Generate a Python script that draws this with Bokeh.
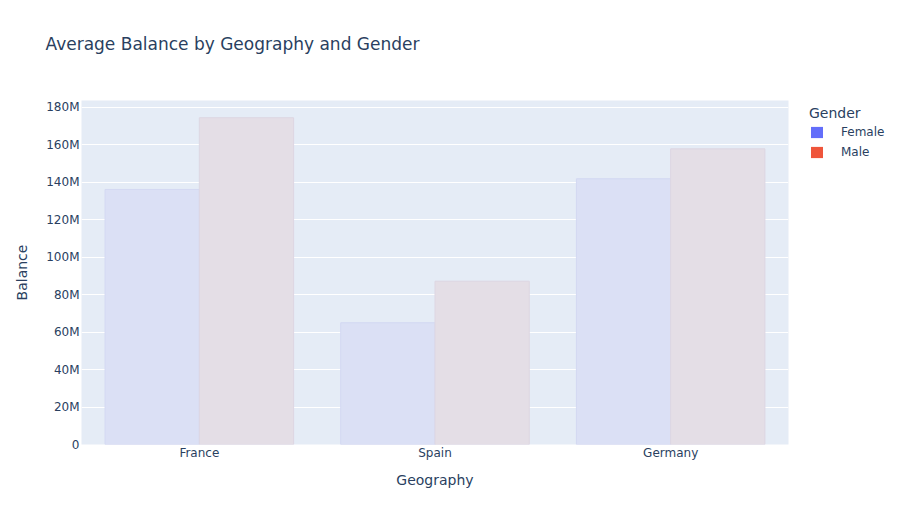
from bokeh.plotting import figure
from bokeh.models import (ColumnDataSource, FactorRange, FixedTicker,
                          Legend, LegendItem, Range1d, Title)
from bokeh.transform import dodge
from bokeh.embed import file_html
from bokeh.resources import INLINE

geographies = ["France", "Spain", "Germany"]
female_balance = [136.2e6, 65.0e6, 141.9e6]
male_balance = [174.5e6, 87.2e6, 157.9e6]
y_ticks = [0, 20e6, 40e6, 60e6, 80e6, 100e6, 120e6, 140e6, 160e6, 180e6]
y_tick_labels = ["0", "20M", "40M", "60M", "80M", "100M", "120M", "140M", "160M", "180M"]

FONT = "DejaVu Sans"
TXT = "#2a3f5f"

src = ColumnDataSource(dict(geo=geographies, female=female_balance, male=male_balance))

p = figure(title=None, x_range=FactorRange(factors=geographies), y_range=Range1d(0, 183.7e6),
           frame_width=707, frame_height=344,
           min_border_left=81, min_border_top=100, min_border_bottom=73, min_border_right=107,
           output_backend="svg", toolbar_location=None)
p.background_fill_color = "#E5ECF6"
p.border_fill_color = "white"
p.outline_line_color = None

# spacer (nearest the frame), then the real title above it
p.add_layout(Title(text=" ", text_font_size="2px", standoff=38), "above")
p.add_layout(Title(text="Average Balance by Geography and Gender", align="left", offset=-36,
                   standoff=10, text_font=FONT, text_font_size="17px",
                   text_font_style="normal", text_color=TXT), "above")

p.vbar(x=dodge("geo", -0.2, range=p.x_range), top="female", width=0.4, source=src,
       fill_color="#dbe0f5", line_color="#d3d8f2", line_width=1)
p.vbar(x=dodge("geo", 0.2, range=p.x_range), top="male", width=0.4, source=src,
       fill_color="#e4dee6", line_color="#ddd6e2", line_width=1)

# legend swatch renderers (zero-size, only used for the legend glyphs)
lf = p.vbar(x=dodge("geo", -0.2, range=p.x_range), top=0, width=0, source=src,
            fill_color="#636efa", line_color=None)
lm = p.vbar(x=dodge("geo", 0.2, range=p.x_range), top=0, width=0, source=src,
            fill_color="#EF553B", line_color=None)

legend = Legend(items=[LegendItem(label="Female", renderers=[lf], index=0),
                       LegendItem(label="Male", renderers=[lm], index=0)],
                location=(21, 285), orientation="vertical",
                title="Gender", title_text_font=FONT, title_text_font_size="14px",
                title_text_font_style="normal", title_text_color=TXT, title_standoff=4,
                glyph_width=15, glyph_height=14, label_height=14, spacing=6,
                label_standoff=17, padding=0, margin=0,
                label_text_font=FONT, label_text_font_size="12px", label_text_color=TXT,
                background_fill_alpha=0, border_line_alpha=0)
p.add_layout(legend, "right")

# axes
p.xgrid.grid_line_color = None
p.ygrid.grid_line_color = "white"
p.ygrid.grid_line_width = 1
p.yaxis.ticker = FixedTicker(ticks=y_ticks)
p.yaxis.major_label_overrides = {t: l for t, l in zip(y_ticks, y_tick_labels)}
for ax in (p.xaxis, p.yaxis):
    ax.axis_line_color = None
    ax.major_tick_line_color = None
    ax.minor_tick_line_color = None
    ax.major_tick_out = 0
    ax.major_tick_in = 0
    ax.major_label_text_font = FONT
    ax.major_label_text_font_size = "12px"
    ax.major_label_text_color = TXT
    ax.axis_label_text_font = FONT
    ax.axis_label_text_font_size = "14px"
    ax.axis_label_text_color = TXT
    ax.axis_label_text_font_style = "normal"
p.xaxis.axis_label = "Geography"
p.yaxis.axis_label = "Balance"
p.yaxis.major_label_standoff = 2
p.xaxis.major_label_standoff = 1
p.yaxis.axis_label_standoff = 13
p.xaxis.axis_label_standoff = 9

open("out.html", "w").write(file_html(p, INLINE))
